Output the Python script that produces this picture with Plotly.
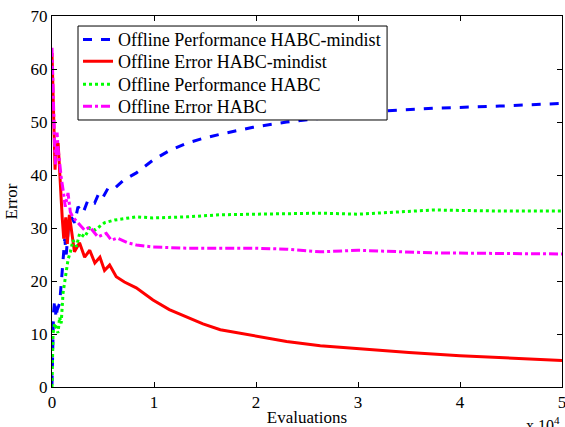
import plotly.graph_objects as go

# Offline Performance HABC-mindist (blue dashed)
blue_x = [0, 60, 150, 260, 400, 500, 750, 910, 1080, 1250, 1400, 1600, 1900, 2220, 2550, 3040, 3530, 4180, 4600, 5000, 5490, 6100, 7000, 8270, 9900, 11500, 13200, 14800, 16500, 19700, 23000, 26300, 30900, 37400, 43900, 50000]
blue_y = [0.5, 8, 14, 16.4, 13, 14.5, 15.8, 19.6, 24, 28, 25, 30, 32, 31, 34, 32.8, 35.3, 34.7, 36.6, 35.8, 37.5, 37.4, 39, 40.4, 42.8, 44.6, 46, 46.9, 47.7, 49, 50, 50.7, 51.9, 52.6, 53, 53.5]

# Offline Error HABC-mindist (red solid)
red_x = [0, 60, 150, 250, 300, 400, 500, 600, 700, 850, 1000, 1150, 1350, 1500, 1700, 2200, 2700, 3200, 3700, 4200, 4700, 5150, 5650, 6300, 7100, 8260, 9900, 11500, 13200, 14800, 16500, 20000, 23000, 26300, 30000, 35000, 40000, 45000, 50000]
red_y = [63, 58, 50, 45, 41, 46, 44, 46, 42, 38, 32, 28, 32, 27, 32.5, 25.5, 27.2, 24.5, 25.8, 23.4, 24.5, 22, 23, 20.8, 19.8, 18.7, 16.4, 14.6, 13.2, 11.9, 10.8, 9.6, 8.6, 7.8, 7.2, 6.5, 5.9, 5.4, 5.0]

# Offline Performance HABC (green dotted)
green_x = [0, 100, 250, 400, 590, 750, 900, 1080, 1250, 1400, 1570, 1800, 2060, 2400, 2710, 3200, 3700, 4200, 5160, 6140, 7450, 8270, 9900, 13200, 16500, 26300, 30000, 37400, 43900, 50000]
green_y = [0, 10, 12, 11, 10.2, 13.2, 12, 17.7, 20, 22, 24, 25.5, 27.7, 26.5, 29, 28.3, 30, 29.6, 31, 31.5, 31.9, 32.1, 31.9, 32.1, 32.5, 32.8, 32.6, 33.4, 33.2, 33.2]

# Offline Error HABC (magenta dash-dot)
mag_x = [0, 60, 150, 250, 350, 500, 600, 750, 900, 1100, 1300, 1570, 1800, 2060, 2550, 3200, 3700, 4500, 5320, 5810, 6400, 7450, 8270, 9900, 13200, 16500, 19700, 23000, 26300, 30000, 37400, 43900, 50000]
mag_y = [64, 58, 52, 46, 42, 48, 45, 41.5, 39.6, 37, 34, 36.6, 33, 32, 31, 29.6, 30.2, 28.3, 29, 27.7, 28.1, 27.2, 26.8, 26.4, 26.2, 26.2, 26.2, 26.0, 25.5, 25.8, 25.3, 25.2, 25.1]

series_names = ["Offline Performance HABC-mindist", "Offline Error HABC-mindist",
                "Offline Performance HABC", "Offline Error HABC"]

x_tickvals = [0, 10000, 20000, 30000, 40000, 50000]
x_ticktext = ["0", "1", "2", "3", "4", "5"]
y_tickvals = [0, 10, 20, 30, 40, 50, 60, 70]

FONT = "Liberation Serif"

series = [
    (blue_x, blue_y, dict(color="#0000ff", width=3, dash="dash")),
    (red_x, red_y, dict(color="#ff0000", width=3)),
    (green_x, green_y, dict(color="#00ff00", width=3, dash="dot")),
    (mag_x, mag_y, dict(color="#ff00ff", width=3, dash="dashdot")),
]
legend_ids = ["legend", "legend2", "legend3", "legend4"]

fig = go.Figure()
for (xs, ys, ln), name, lid in zip(series, series_names, legend_ids):
    fig.add_trace(go.Scatter(x=xs, y=ys, mode="lines", name=name, line=ln, legend=lid))

# legend box (one legend per row so the row pitch matches)
box_x0, box_x1 = 0.051, 0.657
box_y0, box_y1 = 0.7197, 0.973
row_centres = [0.936, 0.877, 0.815, 0.756]
legend_layouts = {}
for lid, yc in zip(legend_ids, row_centres):
    legend_layouts[lid] = dict(x=box_x0, y=yc, xanchor="left", yanchor="middle",
                               bgcolor="rgba(0,0,0,0)", borderwidth=0,
                               font=dict(family=FONT, size=18), itemwidth=30)

fig.update_layout(
    width=565, height=427,
    margin=dict(l=52, r=3, t=16, b=40, autoexpand=False),
    paper_bgcolor="white", plot_bgcolor="white",
    font=dict(family=FONT, size=17, color="black"),
    showlegend=True,
    xaxis=dict(range=[0, 50000], tickvals=x_tickvals, ticktext=x_ticktext,
               showgrid=False, zeroline=False, showline=True, linecolor="black",
               linewidth=1, mirror="ticks", ticks="inside", ticklen=5,
               tickcolor="black", tickfont=dict(family=FONT, size=17),
               ticklabeloverflow="allow",
               title=dict(text="Evaluations", font=dict(family=FONT, size=17), standoff=0)),
    yaxis=dict(range=[0, 70], tickvals=y_tickvals,
               showgrid=False, zeroline=False, showline=True, linecolor="black",
               linewidth=1, mirror="ticks", ticks="inside", ticklen=5,
               tickcolor="black", tickfont=dict(family=FONT, size=17),
               ticklabeloverflow="allow",
               title=dict(text="Error", font=dict(family=FONT, size=17), standoff=8)),
    shapes=[dict(type="rect", xref="paper", yref="paper", x0=box_x0, x1=box_x1,
                 y0=box_y0, y1=box_y1, fillcolor="white",
                 line=dict(color="black", width=1), layer="above")],
    **legend_layouts,
)
fig.add_annotation(text="x 10<sup>4</sup>", xref="paper", yref="paper",
                   x=1.0, y=-0.068, xanchor="right", yanchor="top",
                   showarrow=False, font=dict(family=FONT, size=16))

fig.write_html("out.html", config={"displayModeBar": False},
               post_script="document.body.style.margin='0';document.body.style.overflow='hidden';")
